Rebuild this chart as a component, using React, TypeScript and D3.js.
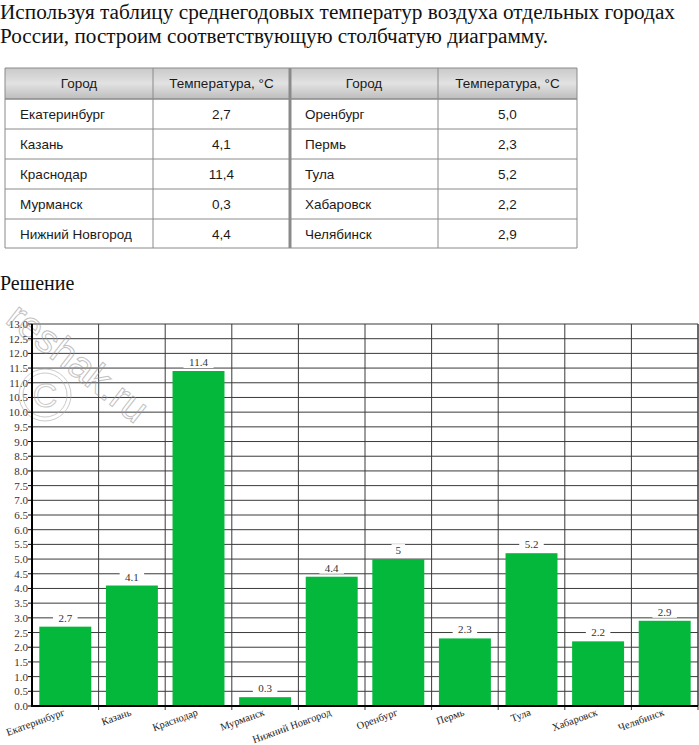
import React from "react";
import * as d3 from "d3";

const cities = ["Екатеринбург", "Казань", "Краснодар", "Мурманск", "Нижний Новгород", "Оренбург", "Пермь", "Тула", "Хабаровск", "Челябинск"];
const temps = [2.7, 4.1, 11.4, 0.3, 4.4, 5.0, 2.3, 5.2, 2.2, 2.9];
const valueLabels = ["2.7", "4.1", "11.4", "0.3", "4.4", "5", "2.3", "5.2", "2.2", "2.9"];
const yTicks = d3.range(0, 13.01, 0.5);

const tableHeaders = ["Город", "Температура, °С", "Город", "Температура, °С"];
const leftCities = ["Екатеринбург", "Казань", "Краснодар", "Мурманск", "Нижний Новгород"];
const leftTemps = ["2,7", "4,1", "11,4", "0,3", "4,4"];
const rightCities = ["Оренбург", "Пермь", "Тула", "Хабаровск", "Челябинск"];
const rightTemps = ["5,0", "2,3", "5,2", "2,2", "2,9"];

const introLines = [
  "Используя таблицу среднегодовых температур воздуха отдельных городах",
  "России, построим соответствующую столбчатую диаграмму.",
];

export default function App() {
  const W = 699, H = 745;
  const plot = { left: 32, right: 698, top: 324, bottom: 706 };
  const x = d3.scaleBand<string>().domain(cities).range([plot.left, plot.right]).paddingInner(0.22).paddingOuter(0.11);
  const xb = d3.scaleBand<string>().domain(cities).range([plot.left, plot.right]);
  const y = d3.scaleLinear().domain([0, 13]).range([plot.bottom, plot.top]);

  const serif = "'Liberation Serif', 'Times New Roman', serif";
  const sans = "'Liberation Sans', Arial, sans-serif";

  const colX = [5, 153, 290, 438, 577];
  const rowY = [68, 99, 129, 159, 189, 219, 248];

  return (
    <svg width={W} height={H} style={{ position: "absolute", left: 0, top: 0, background: "#fff" }}>
      <defs>
        <linearGradient id="hdr" x1="0" y1="0" x2="0" y2="1">
          <stop offset="0" stopColor="#c9c9c9" />
          <stop offset="0.5" stopColor="#e2e2e2" />
          <stop offset="1" stopColor="#bdbdbd" />
        </linearGradient>
      </defs>
      <text x={0} y={19} fontFamily={serif} fontSize={20} fill="#111" textLength={675} lengthAdjust="spacingAndGlyphs">{introLines[0]}</text>
      <text x={0} y={43} fontFamily={serif} fontSize={20} fill="#111" textLength={548} lengthAdjust="spacingAndGlyphs">{introLines[1]}</text>

      <rect x={colX[0]} y={rowY[0]} width={colX[4] - colX[0]} height={rowY[1] - rowY[0]} fill="url(#hdr)" />
      {rowY.map((ry, i) => (
        <line key={"tr" + i} x1={colX[0]} x2={colX[4]} y1={ry} y2={ry} stroke="#8a8a8a" strokeWidth={i === 1 ? 1.5 : 1} />
      ))}
      {colX.map((cx, i) => (
        <line key={"tc" + i} x1={cx} x2={cx} y1={rowY[0]} y2={rowY[6]} stroke="#8a8a8a" strokeWidth={i === 2 ? 3 : 1} />
      ))}
      {tableHeaders.map((h, i) => (
        <text key={"th" + i} x={(colX[i] + colX[i + 1]) / 2} y={88} textAnchor="middle" fontFamily={sans} fontSize={13.5} fill="#1a1a1a">{h}</text>
      ))}
      {leftCities.map((c, i) => (
        <g key={"lr" + i}>
          <text x={20} y={rowY[i + 1] + 20} fontFamily={sans} fontSize={13.5} fill="#1a1a1a">{c}</text>
          <text x={(colX[1] + colX[2]) / 2} y={rowY[i + 1] + 20} textAnchor="middle" fontFamily={sans} fontSize={13.5} fill="#1a1a1a">{leftTemps[i]}</text>
        </g>
      ))}
      {rightCities.map((c, i) => (
        <g key={"rr" + i}>
          <text x={305} y={rowY[i + 1] + 20} fontFamily={sans} fontSize={13.5} fill="#1a1a1a">{c}</text>
          <text x={(colX[3] + colX[4]) / 2} y={rowY[i + 1] + 20} textAnchor="middle" fontFamily={sans} fontSize={13.5} fill="#1a1a1a">{rightTemps[i]}</text>
        </g>
      ))}

      <text x={0} y={290} fontFamily={serif} fontSize={20} fill="#111">Решение</text>

      {yTicks.map((t) => (
        <g key={"g" + t}>
          <line x1={plot.left} x2={plot.right} y1={y(t)} y2={y(t)} stroke="#3a3a3a" strokeWidth={1} />
          <line x1={plot.left - 4} x2={plot.left} y1={y(t)} y2={y(t)} stroke="#000" strokeWidth={1} />
          <text x={plot.left - 4} y={y(t) + 4} textAnchor="end" fontFamily={serif} fontSize={11} fill="#3a2f35">{t.toFixed(1)}</text>
        </g>
      ))}
      {cities.map((c, i) => (
        <line key={"v" + i} x1={xb(c)! + xb.bandwidth()} x2={xb(c)! + xb.bandwidth()} y1={plot.top} y2={plot.bottom + 4} stroke="#3a3a3a" strokeWidth={1} />
      ))}
      <line x1={plot.right} x2={plot.right} y1={plot.top} y2={plot.bottom} stroke="#3a3a3a" />

      <g opacity={0.6}>
        <text transform="translate(4,322) rotate(38)" fontFamily={sans} fontSize={40} fill="none" stroke="#999" strokeWidth={1}>reshak.ru</text>
        <circle cx={45} cy={395} r={26} fill="none" stroke="#aaa" strokeWidth={1} />
        <circle cx={45} cy={395} r={22} fill="none" stroke="#aaa" strokeWidth={1} />
        <text x={45} y={407} textAnchor="middle" fontFamily={sans} fontSize={34} fill="none" stroke="#aaa" strokeWidth={1}>C</text>
      </g>

      {cities.map((c, i) => {
        const cx = x(c)! + x.bandwidth() / 2;
        const lw = valueLabels[i].length * 5.5 + 8;
        return (
          <g key={"b" + i}>
            <rect x={x(c)} y={y(temps[i])} width={x.bandwidth()} height={plot.bottom - y(temps[i])} fill="#03b83a" />
            <rect x={cx - lw / 2} y={y(temps[i]) - 15} width={lw} height={12} fill="#fff" />
            <text x={cx} y={y(temps[i]) - 5} textAnchor="middle" fontFamily={serif} fontSize={11} fill="#333">{valueLabels[i]}</text>
          </g>
        );
      })}

      <line x1={plot.left} x2={plot.left} y1={plot.top} y2={plot.bottom + 1} stroke="#000" strokeWidth={2} />
      <line x1={plot.left} x2={plot.right} y1={plot.bottom} y2={plot.bottom} stroke="#000" strokeWidth={2} />

      {cities.map((c) => {
        const cx = xb(c)! + xb.bandwidth() / 2;
        return (
          <text key={"xl" + c} transform={`translate(${cx},${plot.bottom + 9}) rotate(-20)`} textAnchor="end" fontFamily={serif} fontSize={10.5} fill="#222">{c}</text>
        );
      })}
    </svg>
  );
}
